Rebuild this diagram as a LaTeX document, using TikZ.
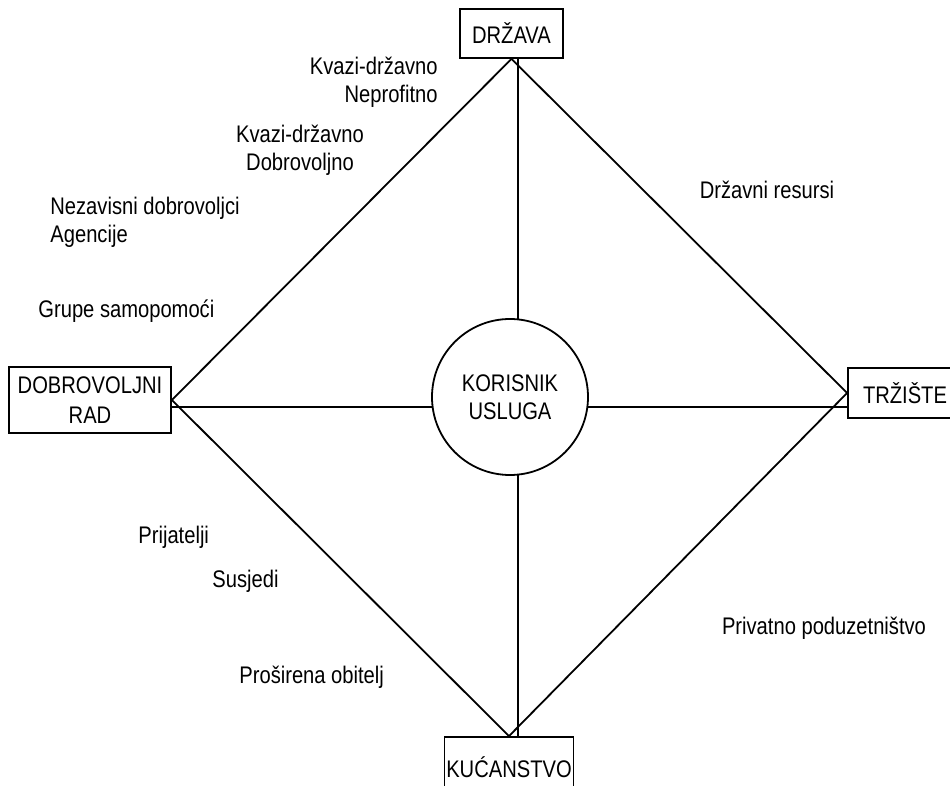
\documentclass[tikz,border=0pt]{standalone}
\usepackage{fontspec}
\setmainfont{Liberation Sans}[FakeStretch=0.84]
\usetikzlibrary{positioning}
\usetikzlibrary{arrows}
\usetikzlibrary{calc}
\tikzstyle{sector} = [draw, line width=0.9pt, inner sep=0pt, align=center]
\tikzstyle{line} = [draw, line width=0.9pt, -]

\begin{document}
\begin{tikzpicture}[x=0.5pt, y=-0.5pt,
        every node/.style={font=\fontsize{12pt}{14pt}\selectfont},
        user/.style={draw, circle, line width=0.9pt, minimum size=78pt, inner sep=0pt, align=center},
        item/.style={inner sep=0pt}]
        \useasboundingbox (0,0) rectangle (950,786);
        %% Vertices
        \node [sector, minimum width=51.5pt, minimum height=24.5pt] at (511.5,33.5) (D) {DRŽAVA};
        \node [sector, minimum width=81pt, minimum height=33pt] at (90,400) (DR) {DOBROVOLJNI\\[1pt]RAD};
        \node [sector, minimum width=57pt, minimum height=25pt] at (905,393) (T) {TRŽIŠTE};
        \node [sector, minimum width=64.5pt, minimum height=30pt] at (509,767) (K) {KUĆANSTVO};
        \node [user] at (510,397) (KU) {KORISNIK\\USLUGA};
        %% Arcs
        \path [line] (D.south) -- (DR.east);
        \path [line] (D.south) -- (T.west);
        \path [line] (DR.east) -- (K.north);
        \path [line] (T.west) -- (K.north);
        \path [line] (KU.84) -- (KU.84 |- D.south);
        \path [line] (KU.-84) -- (KU.-84 |- K.north);
        \path [line] (KU.187) -- (KU.187 -| DR.east);
        \path [line] (KU.-7) -- (KU.-7 -| T.west);
        %% Labels
        \node [item, anchor=east, align=right] at (438,82) (kvneprof) {Kvazi-državno\\Neprofitno};
        \node [item, align=center] at (300,150) (kvdobrov) {Kvazi-državno\\Dobrovoljno};
        \node [item, anchor=west, align=left] at (50,222) (nezav) {Nezavisni dobrovoljci\\Agencije};
        \node [item, anchor=west] at (38,311) (grupe) {Grupe samopomoći};
        \node [item] at (767,190) (drzres) {Državni resursi};
        \node [item, anchor=west] at (138,537) (prij) {Prijatelji};
        \node [item, anchor=west] at (212,581) (susj) {Susjedi};
        \node [item, anchor=west] at (239,677) (obit) {Proširena obitelj};
        \node [item] at (824,628) (privat) {Privatno poduzetništvo};
    \end{tikzpicture}
\end{document}
